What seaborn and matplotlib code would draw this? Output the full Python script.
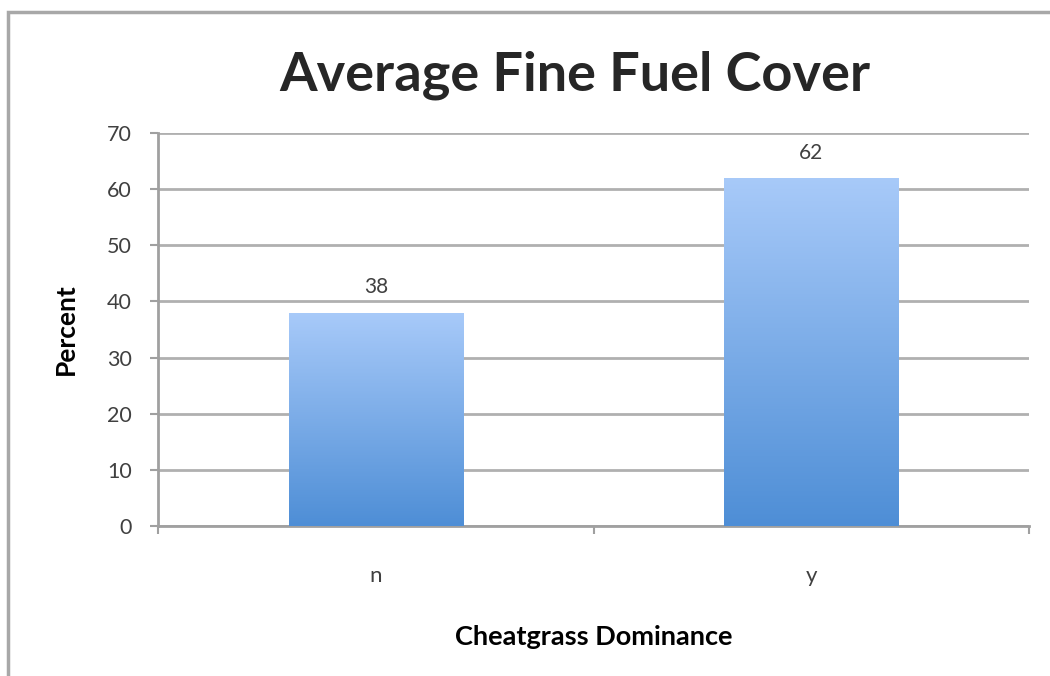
import matplotlib
matplotlib.use("Agg")
import matplotlib.pyplot as plt
import seaborn as sns
import numpy as np
import pandas as pd
from matplotlib.colors import LinearSegmentedColormap
from matplotlib.patches import Rectangle

categories = ["n", "y"]
values = [38, 62]
yticks = [0, 10, 20, 30, 40, 50, 60, 70]
title = "Average Fine Fuel Cover"
xlabel = "Cheatgrass Dominance"
ylabel = "Percent"

sns.set_theme(style="white")
plt.rcParams['font.family'] = ['Lato', 'DejaVu Sans']

df = pd.DataFrame({"cat": categories, "val": values})

fig = plt.figure(figsize=(10.5, 6.76), dpi=100)
ax = fig.add_axes([158/1050, 1-526/676, (1029-158)/1050, (526-133)/676])

sns.barplot(data=df, x="cat", y="val", ax=ax, width=0.4, color="#7aaee8",
            saturation=1, linewidth=0, zorder=2)

cmap = LinearSegmentedColormap.from_list("g", ["#4e8ed6", "#a8caf9"])
grad = np.linspace(0, 1, 256).reshape(-1, 1)
for p in ax.patches:
    x0, y0 = p.get_x(), p.get_y()
    w, h = p.get_width(), p.get_height()
    im = ax.imshow(grad, cmap=cmap, origin="lower", aspect="auto",
                   extent=[x0, x0 + w, y0, y0 + h], zorder=3)
    im.set_clip_path(p)
    ax.annotate(f"{int(round(h))}", (x0 + w / 2, h), xytext=(0, 11),
                textcoords="offset points", ha="center", va="bottom",
                fontsize=15, color="#404040")

ax.set_xlim(-0.5, 1.5)
ax.set_ylim(0, 70)
ax.set_yticks(yticks)
ax.set_yticklabels([str(t) for t in yticks], fontsize=15.5, color="#404040")
ax.yaxis.grid(True, color="#b0b0b0", linewidth=2, zorder=0)
ax.set_axisbelow(True)

ax.set_xticks([0, 1])
ax.set_xticklabels(categories, fontsize=16, color="#404040")
ax.set_xticks([-0.5, 0.5, 1.5], minor=True)
ax.tick_params(axis="x", which="major", length=0, pad=29)
ax.tick_params(axis="x", which="minor", length=6, width=1.5, color="#a0a0a0", direction="out", bottom=True)
ax.tick_params(axis="y", which="major", length=6, width=1.5, color="#a0a0a0", direction="out", left=True, pad=13)

for s in ["top", "right"]:
    ax.spines[s].set_visible(False)
for s in ["left", "bottom"]:
    ax.spines[s].set_color("#a0a0a0")
    ax.spines[s].set_linewidth(2)

ax.set_xlabel(xlabel, fontsize=19.5, fontweight="bold", labelpad=28, color="black")
ax.set_ylabel(ylabel, fontsize=19, fontweight="bold", labelpad=21, color="black")
fig.text(575/1050, 1-75/676, title, ha="center", va="center", fontsize=39, fontweight="bold")

fig.patches.append(Rectangle((8/1050, -0.1), 1.2, 1 - 12/676 + 0.1, transform=fig.transFigure,
                             fill=False, edgecolor="#a8a8a8", linewidth=2.5))

fig.savefig("out.png", dpi=100, facecolor="white")
